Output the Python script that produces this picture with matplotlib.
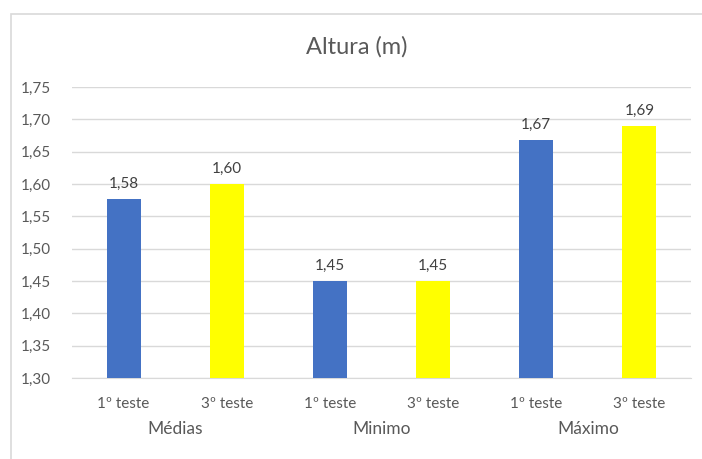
import matplotlib.pyplot as plt
import numpy as np
from matplotlib.patches import Rectangle
from matplotlib.ticker import FuncFormatter

plt.rcParams['font.family'] = ['Lato', 'DejaVu Sans']

# Alturas por grupo e por teste
grupos = ['Médias', 'Minimo', 'Máximo']
testes = ['1º teste', '3º teste']
alturas_1 = [1.577, 1.45, 1.668]
alturas_3 = [1.60, 1.45, 1.69]
cores = ['#4472C4', '#FFFF00']

texto = '#595959'
grelha = '#D9D9D9'

fig = plt.figure(figsize=(7.02, 4.59), dpi=100)
ax = fig.add_axes([0.1026, 0.1765, 0.8817, 0.634])

# a cada categoria (grupo x teste) corresponde uma posição
valores = []
for a1, a3 in zip(alturas_1, alturas_3):
    valores.extend([a1, a3])
x = np.arange(len(valores))
cor_barras = [cores[i % 2] for i in range(len(valores))]

ax.bar(x, np.array(valores) - 1.30, bottom=1.30, width=0.33,
       color=cor_barras, zorder=3)

for xi, v in zip(x, valores):
    ax.text(xi, v + 0.012, f'{v:.2f}'.replace('.', ','), ha='center',
            va='bottom', fontsize=11, color='#404040')

ax.set_xlim(-0.5, len(valores) - 0.5)
ax.set_ylim(1.30, 1.75)
ax.set_yticks(np.arange(1.30, 1.751, 0.05))
ax.yaxis.set_major_formatter(FuncFormatter(lambda v, p: f'{v:.2f}'.replace('.', ',')))
ax.grid(axis='y', color=grelha, linewidth=1, zorder=0)
ax.tick_params(axis='y', length=0, pad=15, labelsize=11, labelcolor=texto)

ax.set_xticks(x)
ax.set_xticklabels(testes * len(grupos))
ax.tick_params(axis='x', length=0, pad=14, labelsize=11, labelcolor=texto)

for s in ['top', 'right', 'left']:
    ax.spines[s].set_visible(False)
ax.spines['bottom'].set_color(grelha)

# rótulos dos grupos por baixo dos testes
for i, g in enumerate(grupos):
    ax.text(2 * i + 0.5, -0.175, g, transform=ax.get_xaxis_transform(),
            ha='center', va='center', fontsize=12.5, color=texto)

fig.text(0.508, 0.897, 'Altura (m)', ha='center', va='center',
         fontsize=17, color=texto)

# moldura do gráfico
fig.patches.append(Rectangle((10.5 / 702, -0.1), 1.2, 1.1 - 14 / 459,
                             transform=fig.transFigure, fill=False,
                             edgecolor=grelha, linewidth=1.2))

fig.savefig('out.png', dpi=100)
